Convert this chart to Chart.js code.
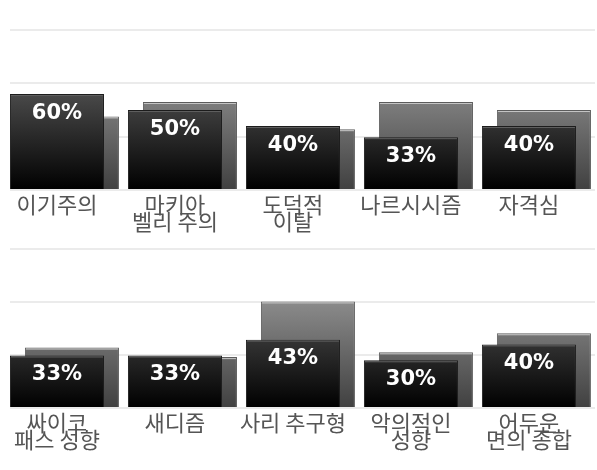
<!DOCTYPE html>
<html>
<head>
<meta charset="utf-8">
<script src="https://cdn.jsdelivr.net/npm/chart.js@4.4.1/dist/chart.umd.min.js"></script>
<style>
  html, body { margin: 0; padding: 0; background: #fff; }
  .box { position: relative; width: 597px; height: 235px; }
</style>
</head>
<body>
<div class="box"><canvas id="topChart"></canvas></div>
<div class="box"><canvas id="bottomChart"></canvas></div>
<script>
// data
const topLabels = [['이기주의'], ['마키아', '벨리 주의'], ['도덕적', '이탈'], ['나르시시즘'], ['자격심']];
const topFront = [60, 50, 40, 33, 40];
const topBack = [46, 55, 38, 55, 50];

const bottomLabels = [['싸이코', '패스 성향'], ['새디즘'], ['사리 추구형'], ['악의적인', '성향'], ['어두운', '면의 종합']];
const bottomFront = [33, 33, 43, 30, 40];
const bottomBack = [38, 32, 67, 35, 47];

const yTicks = [0, 33.33, 66.67, 100];

// x range: front bars sit on integers, back bars a little to the right
const X_MIN = -0.398;
const X_MAX = 4.56;
const BACK_SHIFT = 0.127;
const BAR_PCT = 0.797;

// vertical gradient over the chart area
function areaGradient(ctx, top, bottom) {
  const chart = ctx.chart;
  const area = chart.chartArea;
  if (!area) return bottom;
  const g = chart.ctx.createLinearGradient(0, area.top, 0, area.bottom);
  g.addColorStop(0, top);
  g.addColorStop(1, bottom);
  return g;
}

// top highlight line + value text, drawn right after each dataset so overlaps stay right
const barDecor = {
  id: 'barDecor',
  afterDatasetDraw(chart, args) {
    const ctx = chart.ctx;
    const ds = chart.data.datasets[args.index];
    ctx.save();
    args.meta.data.forEach((el, i) => {
      const p = el.getProps(['x', 'y', 'width'], true);
      ctx.strokeStyle = ds.highlight;
      ctx.lineWidth = 1;
      ctx.beginPath();
      ctx.moveTo(p.x - p.width / 2 + 1, p.y + 1.5);
      ctx.lineTo(p.x + p.width / 2 - 1, p.y + 1.5);
      ctx.stroke();
      if (ds.showValue) {
        ctx.fillStyle = '#ffffff';
        ctx.font = 'bold 21px "DejaVu Sans"';
        ctx.textAlign = 'center';
        ctx.textBaseline = 'alphabetic';
        ctx.fillText(ds.values[i] + '%', p.x, p.y + 24.5);
      }
    });
    ctx.restore();
  }
};

function makeChart(id, labels, front, back, padTop, axisHeight) {
  const intTicks = s => { s.ticks = labels.map((_, i) => ({ value: i })); };
  return new Chart(document.getElementById(id), {
    type: 'bar',
    data: {
      datasets: [
        {
          data: front.map((v, i) => ({ x: i, y: v })),
          values: front,
          xAxisID: 'x',
          order: 1,
          showValue: true,
          highlight: '#5e5e5e',
          backgroundColor: ctx => areaGradient(ctx, '#7a7a7a', '#000000'),
          borderColor: '#1c1c1c',
          borderWidth: 1,
          categoryPercentage: 1,
          barPercentage: BAR_PCT
        },
        {
          data: back.map((v, i) => ({ x: i + BACK_SHIFT, y: v })),
          values: back,
          xAxisID: 'x2',
          order: 2,
          showValue: false,
          highlight: '#c4c4c4',
          backgroundColor: ctx => areaGradient(ctx, '#b0b0b0', '#404040'),
          borderColor: '#5c5c5c',
          borderWidth: 1,
          categoryPercentage: 1,
          barPercentage: BAR_PCT
        }
      ]
    },
    options: {
      responsive: true,
      maintainAspectRatio: false,
      animation: false,
      grouped: false,
      layout: { padding: { top: padTop, left: 10, right: 2, bottom: 0 } },
      plugins: { legend: { display: false }, tooltip: { enabled: false } },
      scales: {
        x: {
          type: 'linear',
          offset: false,
          min: X_MIN,
          max: X_MAX,
          grid: { display: false },
          border: { display: false },
          afterBuildTicks: intTicks,
          ticks: {
            color: '#555555',
            padding: -2,
            maxRotation: 0,
            autoSkip: false,
            callback: v => labels[v],
            font: { family: '"Noto Sans CJK KR", sans-serif', size: 22, lineHeight: 0.77 }
          },
          afterFit: s => {
            s.height = axisHeight;
            s.paddingLeft = 0;
            s.paddingRight = 0;
          }
        },
        x2: {
          type: 'linear',
          display: false,
          offset: false,
          min: X_MIN,
          max: X_MAX,
          afterBuildTicks: intTicks
        },
        y: {
          min: 0,
          max: 100,
          afterBuildTicks: s => { s.ticks = yTicks.map(v => ({ value: v })); },
          ticks: { display: false },
          grid: { color: '#ebebeb', lineWidth: 2, drawTicks: false },
          border: { display: false },
          afterFit: s => { s.width = 0; }
        }
      }
    },
    plugins: [barDecor]
  });
}

makeChart('topChart', topLabels, topFront, topBack, 30, 45);
makeChart('bottomChart', bottomLabels, bottomFront, bottomBack, 14, 62);
</script>
</body>
</html>
